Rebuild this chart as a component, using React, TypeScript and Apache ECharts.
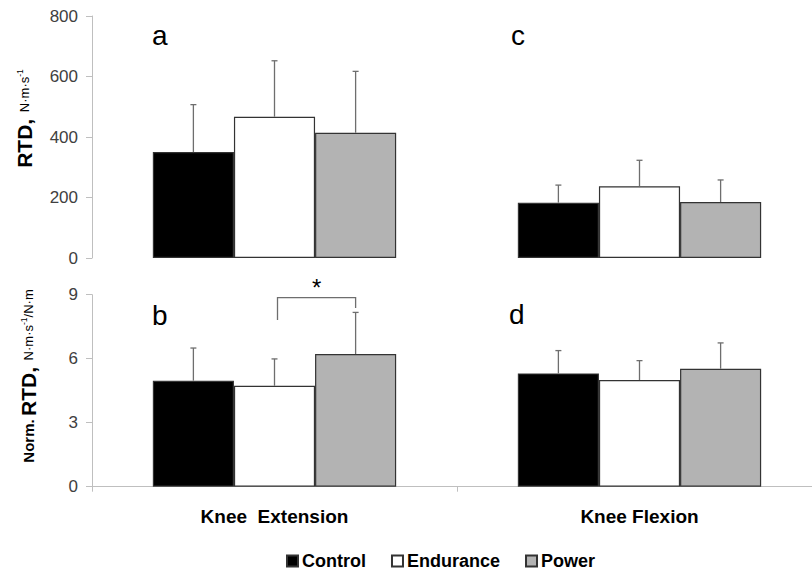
import React, { useEffect, useRef } from "react";
import * as echarts from "echarts";

const categories = ["Knee  Extension", "Knee Flexion"];
const groups = ["Control", "Endurance", "Power"];
const groupColors = ["#000000", "#ffffff", "#b3b3b3"];

// RTD (N·m·s-1): mean and SD, [Knee Extension, Knee Flexion]
const rtdMean = [
  [350, 183],
  [467, 237],
  [414, 185],
];
const rtdSD = [
  [157, 58],
  [185, 86],
  [203, 73],
];
// Normalized RTD (N·m·s-1/N·m)
const normMean = [
  [4.97, 5.31],
  [4.73, 5.0],
  [6.22, 5.53],
];
const normSD = [
  [1.53, 1.07],
  [1.26, 0.91],
  [1.95, 1.21],
];
const rtdTicks = { min: 0, max: 800, interval: 200 };
const normTicks = { min: 0, max: 9, interval: 3 };
// significance bracket between Endurance and Power (Knee Extension)
const bracket = [[0, 8.86, 7.81, 8.38]];

const FONT = "'Liberation Sans', Arial, Helvetica, sans-serif";
const AXIS_GRAY = "#bfbfbf";
const ERR_GRAY = "#6e6e6e";
const CAT_GAP = 1 / 3;

function errorRender(params: any, api: any) {
  const cat = api.value(0);
  const band = api.size([1, 0])[0];
  const bw = (band * (1 - CAT_GAP)) / 3;
  const cx = api.coord([cat, 0])[0] + (api.value(3) - 1) * bw;
  const yBase = api.coord([cat, api.value(1)])[1];
  const yTop = api.coord([cat, api.value(2)])[1];
  const st = { stroke: ERR_GRAY, lineWidth: 1.3 };
  return {
    type: "group",
    children: [
      { type: "line", shape: { x1: cx, y1: yBase, x2: cx, y2: yTop }, style: st },
      { type: "line", shape: { x1: cx - 3, y1: yTop, x2: cx + 3, y2: yTop }, style: st },
    ],
  };
}

function bracketRender(params: any, api: any) {
  const cat = api.value(0);
  const band = api.size([1, 0])[0];
  const bw = (band * (1 - CAT_GAP)) / 3;
  const c = api.coord([cat, 0])[0];
  const x1 = c + 3;
  const x2 = c + bw;
  const yT = api.coord([cat, api.value(1)])[1];
  const yL = api.coord([cat, api.value(2)])[1];
  const yR = api.coord([cat, api.value(3)])[1];
  const st = { stroke: ERR_GRAY, lineWidth: 1.3, fill: "none" };
  return {
    type: "group",
    children: [
      {
        type: "polyline",
        shape: { points: [[x1, yL], [x1, yT], [x2, yT], [x2, yR]] },
        style: st,
      },
      {
        type: "text",
        style: {
          text: "*",
          x: (x1 + x2) / 2,
          y: yT + 2,
          textAlign: "center",
          textVerticalAlign: "bottom",
          fontSize: 24,
          fontFamily: FONT,
          fill: "#000",
        },
      },
    ],
  };
}

export default function App() {
  const ref = useRef<HTMLDivElement>(null);
  useEffect(() => {
    if (!ref.current) return;
    const chart = echarts.init(ref.current, undefined, { renderer: "svg" });
    const grids = [
      { left: 92, top: 16, width: 730, height: 242 },
      { left: 92, top: 294.7, width: 730, height: 192 },
    ];
    const yLabel = { fontSize: 17, color: "#404040", fontFamily: FONT, margin: 14 };
    const yAxisCommon = {
      type: "value",
      axisLine: { show: true, lineStyle: { color: AXIS_GRAY, width: 1 } },
      axisTick: { show: true, length: 6, lineStyle: { color: AXIS_GRAY } },
      splitLine: { show: false },
      axisLabel: yLabel,
    };
    const series: any[] = [];
    const datasets = [
      { mean: rtdMean, sd: rtdSD, idx: 0 },
      { mean: normMean, sd: normSD, idx: 1 },
    ];
    datasets.forEach((d) => {
      groups.forEach((g, gi) => {
        series.push({
          type: "bar",
          name: g,
          xAxisIndex: d.idx,
          yAxisIndex: d.idx,
          data: d.mean[gi],
          barGap: "0%",
          barCategoryGap: "33.333%",
          itemStyle: { color: groupColors[gi], borderColor: "#333", borderWidth: 1.2 },
          emphasis: { disabled: true },
        });
      });
      const errData: number[][] = [];
      groups.forEach((g, gi) => {
        categories.forEach((c, ci) => {
          errData.push([ci, d.mean[gi][ci], d.mean[gi][ci] + d.sd[gi][ci], gi]);
        });
      });
      series.push({
        type: "custom",
        name: "err" + d.idx,
        xAxisIndex: d.idx,
        yAxisIndex: d.idx,
        renderItem: errorRender,
        encode: { x: 0, y: [1, 2] },
        data: errData,
        z: 3,
        silent: true,
      });
    });
    series.push({
      type: "custom",
      name: "sig",
      xAxisIndex: 1,
      yAxisIndex: 1,
      renderItem: bracketRender,
      encode: { x: 0, y: [1, 2, 3] },
      data: bracket,
      clip: false,
      z: 4,
      silent: true,
    });

    const nameRich = {
      b: { fontSize: 21, fontWeight: "bold", fontFamily: FONT, color: "#000", verticalAlign: "middle" },
      nb: { fontSize: 15, fontWeight: "bold", fontFamily: FONT, color: "#000", verticalAlign: "middle" },
      n: { fontSize: 13, fontFamily: FONT, color: "#000", verticalAlign: "middle" },
      s: { fontSize: 8.5, fontFamily: FONT, color: "#000", verticalAlign: "middle", padding: [0, 0, 9, 0] },
    };
    const letter = (t: string, x: number, y: number) => ({
      type: "text",
      x,
      y,
      style: {
        text: t,
        fontSize: 28,
        fontFamily: FONT,
        fill: "#000",
        textAlign: "left",
        textVerticalAlign: "middle",
      },
    });

    chart.setOption({
      animation: false,
      backgroundColor: "#fff",
      grid: grids,
      legend: {
        data: groups,
        left: 286,
        top: 552,
        padding: 0,
        itemWidth: 11,
        itemHeight: 11,
        itemGap: 25,
        icon: "rect",
        selectedMode: false,
        textStyle: { fontSize: 18, fontWeight: "bold", color: "#000", fontFamily: FONT, padding: [0, 0, 0, -1] },
      },
      xAxis: [
        {
          type: "category",
          gridIndex: 0,
          data: categories,
          show: false,
        },
        {
          type: "category",
          gridIndex: 1,
          data: categories,
          axisLine: { show: true, lineStyle: { color: AXIS_GRAY, width: 1 } },
          axisTick: { show: true, length: 5, alignWithLabel: false, lineStyle: { color: AXIS_GRAY } },
          axisLabel: { fontSize: 19, fontWeight: "bold", color: "#000", fontFamily: FONT, margin: 20 },
        },
      ],
      yAxis: [
        { ...yAxisCommon, gridIndex: 0, ...rtdTicks },
        { ...yAxisCommon, gridIndex: 1, ...normTicks },
      ],
      graphic: [
        letter("a", 152, 35),
        letter("b", 152, 315),
        letter("c", 511, 35),
        letter("d", 509, 314),
        {
          type: "text",
          x: 24,
          y: 118.5,
          rotation: Math.PI / 2,
          style: {
            text: "{b|RTD,}  {n|N·m·s}{s|-1}",
            rich: nameRich,
            textAlign: "center",
            textVerticalAlign: "middle",
          },
        },
        {
          type: "text",
          x: 28,
          y: 376,
          rotation: Math.PI / 2,
          style: {
            text: "{nb|Norm.} {b|RTD,}  {n|N·m·s}{s|-1}{n|/N·m}",
            rich: nameRich,
            textAlign: "center",
            textVerticalAlign: "middle",
          },
        },
      ],
      series,
    });
    return () => chart.dispose();
  }, []);
  return (
    <div
      style={{
        position: "fixed",
        left: 0,
        top: 0,
        width: 812,
        height: 581,
        overflow: "hidden",
        background: "#fff",
      }}
    >
      <div ref={ref} style={{ width: 830, height: 581 }} />
    </div>
  );
}
